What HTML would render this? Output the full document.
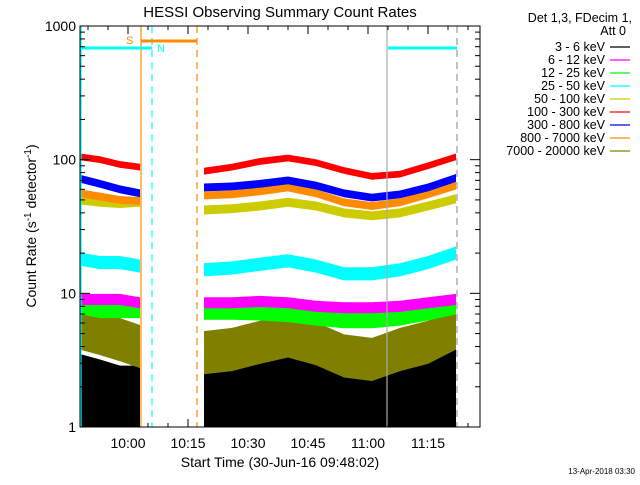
<!DOCTYPE html>
<html><head><meta charset="utf-8"><style>
body{margin:0;background:#fff}
svg text{font-family:"Liberation Sans",sans-serif;fill:#000}
</style></head><body>
<svg id="chart" width="640" height="480" viewBox="0 0 640 480" xmlns="http://www.w3.org/2000/svg">
<rect width="640" height="480" fill="#fff"/>
<text x="280" y="17" font-size="15" text-anchor="middle">HESSI Observing Summary Count Rates</text>
<g id="marks"></g>
<g id="axes"></g>
<text x="280" y="467" font-size="14" text-anchor="middle">Start Time (30-Jun-16 09:48:02)</text>
<text transform="translate(36,226) rotate(-90)" font-size="14" text-anchor="middle">Count Rate (s<tspan font-size="10" dy="-5">-1</tspan><tspan dy="5"> detector</tspan><tspan font-size="10" dy="-5">-1</tspan><tspan dy="5">)</tspan></text>
<text x="632" y="22" font-size="12.5" text-anchor="end">Det 1,3, FDecim 1,</text>
<text x="626" y="35" font-size="12.5" text-anchor="end">Att 0</text>
<g id="legend"></g>
<text x="635" y="474" font-size="8" text-anchor="end">13-Apr-2018 03:30</text>
</svg>
<script>
// time in minutes after 09:48
const times1 = [0, 5, 10, 15];
const times2 = [31, 38, 45, 52, 59, 66, 73, 80, 87, 94];
const bands = ['3 - 6 keV','6 - 12 keV','12 - 25 keV','25 - 50 keV','50 - 100 keV','100 - 300 keV','300 - 800 keV','800 - 7000 keV','7000 - 20000 keV'];
const colors = ['#000','#ff00ff','#00ff00','#00ffff','#cccc00','#ff0000','#0000ff','#ff8c00','#808000'];
const red1 = [105, 100, 92, 88];
const red2 = [82, 88, 97, 103, 95, 83, 75, 78, 90, 105];
const blue1 = [72, 66, 60, 56];
const blue2 = [62, 63, 66, 70, 64, 56, 52, 55, 62, 73];
const orange1 = [56, 53, 50, 49];
const orange2 = [54, 55, 58, 62, 56, 48, 45, 48, 55, 64];
const yellow1 = [50, 48, 47, 48];
const yellow2 = [42, 43, 45, 48, 45, 40, 38, 40, 45, 51];
const cyan1 = [18, 17, 17, 16];
const cyan2 = [15, 15.5, 16.5, 17.5, 16, 14, 14, 15, 17, 20];
const magenta1 = [9, 9, 9, 8.5];
const magenta2 = [8.5, 8.5, 8.7, 8.5, 8, 7.8, 7.8, 8, 8.5, 9];
const green1 = [8, 7.5, 7.5, 7.5];
const green2 = [7.3, 7.3, 7.2, 7.0, 6.6, 6.3, 6.3, 6.6, 7.2, 8];
const olive1 = [5.5, 5, 4.5, 4];
const olive2 = [3.6, 3.8, 4.3, 4.8, 4.2, 3.4, 3.2, 3.8, 4.3, 5.5];
const black1 = [2.2, 2, 1.8, 1.8];
const black2 = [2, 2, 2.1, 2.2, 2, 1.9, 1.9, 2, 2.3, 2.8];
const xTickLabels = ['10:00','10:15','10:30','10:45','11:00','11:15'];
const xTickMinutes = [12, 27, 42, 57, 72, 87];
const yTickValues = [1, 10, 100, 1000];

const X0=80, X1=480, Y0=26, Y1=427;
function xs(m){return X0 + m*(X1-X0)/100;}
function ys(v){return Y1 - Math.log10(v)*(Y1-Y0)/3;}
const NS='http://www.w3.org/2000/svg';
function mk(tag, attrs, parent){const e=document.createElementNS(NS,tag);for(const k in attrs)e.setAttribute(k,attrs[k]);parent.appendChild(e);return e;}
const marks=document.getElementById('marks'), axes=document.getElementById('axes'), legend=document.getElementById('legend');

const series = [
 [black1, black2, 1.6, 'series-3-6-kev'],
 [olive1, olive2, 1.45, 'series-7000-20000-kev'],
 [green1, green2, 1.15, 'series-12-25-kev'],
 [magenta1, magenta2, 1.1, 'series-6-12-kev'],
 [cyan1, cyan2, 1.12, 'series-25-50-kev'],
 [yellow1, yellow2, 1.08, 'series-50-100-kev'],
 [orange1, orange2, 1.07, 'series-800-7000-kev'],
 [blue1, blue2, 1.07, 'series-300-800-kev'],
 [red1, red2, 1.06, 'series-100-300-kev']
];
const colorIdx=[0,8,2,1,3,4,7,6,5];
series.forEach((s,i)=>{
  [[times1,s[0]],[times2,s[1]]].forEach(([t,v],j)=>{
    let top=t.map((m,k)=>xs(m)+','+ys(Math.min(1000,v[k]*s[2])));
    let bot=t.map((m,k)=>xs(m)+','+ys(Math.max(1,v[k]/s[2]))).reverse();
    const p=mk('polygon',{points:top.concat(bot).join(' '),fill:colors[colorIdx[i]]},marks);
    
    
  });
});
[[times1,black1],[times2,black2]].forEach(([t,v])=>{
  const pts=t.map((m,k)=>xs(m)+','+ys(v[k]));
  pts.push(xs(t[t.length-1])+','+Y1, xs(t[0])+','+Y1);
  const p=mk('polygon',{points:pts.join(' '),fill:'#000'},marks);
  
  
});

function vline(x,color,dash,name){const l=mk('line',{x1:x,x2:x,y1:Y0,y2:Y1,stroke:color,'stroke-width':1.2},marks);if(dash)l.setAttribute('stroke-dasharray','7,5');

}
vline(81,'#00ffff',false,'night-end-line');
vline(141,'#ff8c00',false,'saa-start-line');
vline(152,'#00ffff',true,'night-start-line');
vline(197,'#ff8c00',true,'saa-end-line');
vline(387,'#aaa',false,'flare-line');
vline(457,'#999',true,'night-start-line-2');
function hline(x1,x2,y,color,name){const l=mk('line',{x1:x1,x2:x2,y1:y,y2:y,stroke:color,'stroke-width':3},marks);

}
hline(80,152,48,'#00ffff','night-bar-1');
hline(388,457,48,'#00ffff','night-bar-2');
hline(141,197,41,'#ff8c00','saa-bar');
let t=mk('text',{x:126,y:44,'font-size':11},marks);t.textContent='S';t.style.fill='#ff8c00';


t=mk('text',{x:157,y:52,'font-size':11},marks);t.textContent='N';t.style.fill='#00ffff';



const fr=mk('rect',{x:X0,y:Y0,width:X1-X0,height:Y1-Y0,fill:'none',stroke:'#000','stroke-width':1},axes);


for(let m=2;m<=100;m+=5){
  const x=xs(m);
  const major=((m-12)%15===0);
  const len=major?8:4;
  let l=mk('line',{x1:x,x2:x,y1:Y1,y2:Y1-len,stroke:'#000'},axes);
  
  
  l=mk('line',{x1:x,x2:x,y1:Y0,y2:Y0+len,stroke:'#000'},axes);
  
  
}
xTickMinutes.forEach((m,i)=>{
  const tx=mk('text',{x:xs(m),y:448,'font-size':14,'text-anchor':'middle'},axes);tx.textContent=xTickLabels[i];
  
  
});
for(let d=0;d<3;d++){for(let k=1;k<10;k++){
  const v=Math.pow(10,d)*k, y=ys(v), len=k===1?10:5;
  let l=mk('line',{x1:X0,x2:X0+len,y1:y,y2:y,stroke:'#000'},axes);
  
  
  l=mk('line',{x1:X1,x2:X1-len,y1:y,y2:y,stroke:'#000'},axes);
  
  
}}
yTickValues.forEach(v=>{
  const tx=mk('text',{x:76,y:ys(v)+5,'font-size':14,'text-anchor':'end'},axes);tx.textContent=String(v);
  
  
});
bands.forEach((b,i)=>{
  const y=51+i*13;
  const tx=mk('text',{x:605,y:y,'font-size':12.5,'text-anchor':'end'},legend);tx.textContent=b;
  
  
  const l=mk('line',{x1:610,x2:630,y1:y-4,y2:y-4,stroke:colors[i],'stroke-width':1.3},legend);
  
  
});
</script>
</body></html>
